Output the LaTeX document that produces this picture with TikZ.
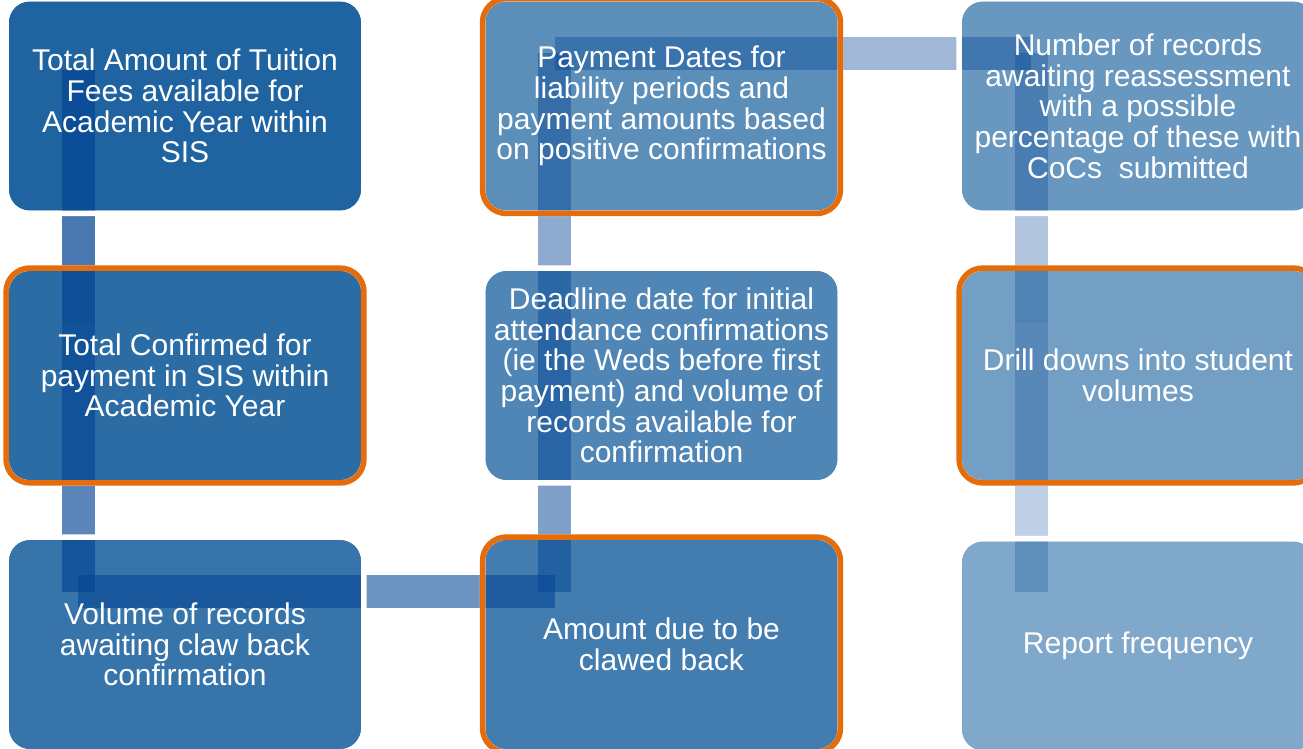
\documentclass[tikz,border=0pt]{standalone}
\usepackage{fontspec}
\setmainfont{Liberation Sans}
\usetikzlibrary{calc}
\pgfdeclarelayer{boxes}
\pgfdeclarelayer{bars}
\pgfdeclarelayer{halo}
\pgfsetlayers{boxes,bars,halo,main}
\definecolor{k1}{RGB}{31,99,160}
\definecolor{k2}{RGB}{43,108,165}
\definecolor{k3}{RGB}{55,116,170}
\definecolor{k4}{RGB}{67,125,176}
\definecolor{k5}{RGB}{80,134,181}
\definecolor{k6}{RGB}{92,142,186}
\definecolor{k7}{RGB}{104,151,191}
\definecolor{k8}{RGB}{116,159,197}
\definecolor{k9}{RGB}{128,168,202}
\definecolor{barblue}{RGB}{4,69,148}
\definecolor{frameorange}{RGB}{228,108,10}
\begin{document}
\begin{tikzpicture}[x=1pt,y=-1pt,
  box/.style={minimum width=352pt, minimum height=209pt, inner sep=0pt,
    align=center, text=white, font=\fontsize{30}{30.7}\selectfont},
  boxfill/.style={rounded corners=21pt},
  halo/.style={fill=white, even odd rule},
  orangeframe/.style={draw=frameorange, line width=5.5pt, rounded corners=23.75pt},
  bar/.style={draw=barblue, line width=33pt, line cap=butt}]
\useasboundingbox (0,0) rectangle (1303,749);

\node[box] (n1) at (185,106) {Total Amount of Tuition\\Fees available for\\Academic Year within\\SIS};
\node[box] (n2) at (185,375.5) {Total Confirmed for\\payment in SIS within\\Academic Year};
\node[box] (n3) at (185,644.5) {Volume of records\\awaiting claw back\\confirmation};
\node[box] (n4) at (661.5,644.5) {Amount due to be\\clawed back};
\node[box] (n5) at (661.5,375.5) {Deadline date for initial\\attendance confirmations\\(ie the Weds before first\\payment) and volume of\\records available for\\confirmation};
\node[box] (n6) at (661.5,106) {Payment Dates for\\liability periods and\\payment amounts based\\on positive confirmations};
\node[box] (n7) at (1138,106) {Number of records\\awaiting reassessment\\with a possible\\percentage of these with\\CoCs\ \ submitted};
\node[box] (n8) at (1138,375.5) {Drill downs into student\\volumes};
\node[box] (n9) at (1138,646) {Report frequency};

\coordinate (p0) at ($(n1.north west)+(69.5,68.5)$);
\foreach \i in {1,...,9} {\coordinate (p\i) at ($(n\i.north west)+(69.5,52)$);}
\coordinate (p9) at ($(n9.north west)+(69.5,50.5)$);

\begin{pgfonlayer}{boxes}
\foreach \i in {1,...,9} {\fill[boxfill, fill=k\i] (n\i.north west) rectangle (n\i.south east);}
\end{pgfonlayer}

\begin{pgfonlayer}{bars}
\draw[bar, draw opacity=0.72] (p0) -- (p2);
\draw[bar, draw opacity=0.65] (p2) -- (p3);
\draw[bar, draw opacity=0.58] (p3) -- (p4);
\draw[bar, draw opacity=0.51] (p4) -- (p5);
\draw[bar, draw opacity=0.45] (p5) -- (p6);
\draw[bar, draw opacity=0.38] (p6) -- (p7);
\draw[bar, draw opacity=0.31] (p7) -- (p8);
\draw[bar, draw opacity=0.25] (p8) -- (p9);
\end{pgfonlayer}

\begin{pgfonlayer}{halo}
\foreach \i in {1,...,9} {\fill[halo] [rounded corners=26.5pt] ($(n\i.north west)+(-5.5,-5.5)$) rectangle ($(n\i.south east)+(5.5,5.5)$) [rounded corners=21pt] (n\i.north west) rectangle (n\i.south east);}
\foreach \i in {2,4,6,8} {\draw[orangeframe] ($(n\i.north west)+(-2.75,-2.75)$) rectangle ($(n\i.south east)+(2.75,2.75)$);}
\end{pgfonlayer}
\end{tikzpicture}
\end{document}
